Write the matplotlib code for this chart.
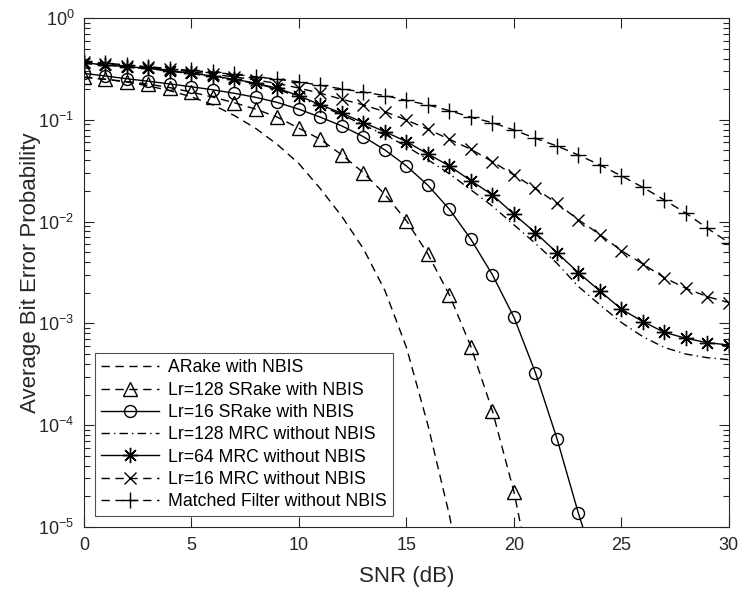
import numpy as np
import matplotlib.pyplot as plt

nan = np.nan

snr = list(range(31))

# ARake with NBIS
arake = [0.262, 0.25, 0.235, 0.215, 0.193, 0.168, 0.14, 0.11, 0.082, 0.057,
         0.037, 0.021, 0.0112, 0.0054, 0.0021, 5.8e-4, 1.0e-4, 1.3e-5, 1e-6,
         nan, nan, nan, nan, nan, nan, nan, nan, nan, nan, nan, nan]
# Lr=128 SRake with NBIS
srake128 = [0.262, 0.25, 0.237, 0.224, 0.207, 0.187, 0.167, 0.147, 0.127, 0.106,
            0.0825, 0.0643, 0.0451, 0.0302, 0.0185, 0.0102, 0.0048, 0.0019, 5.9e-4,
            1.38e-4, 2.22e-5, 2e-6, nan, nan, nan, nan, nan, nan, nan, nan, nan]
# Lr=16 SRake with NBIS
srake16 = [0.286, 0.269, 0.253, 0.239, 0.225, 0.211, 0.197, 0.182, 0.166, 0.148,
           0.127, 0.106, 0.0869, 0.0682, 0.0505, 0.0352, 0.0227, 0.0132, 0.0067,
           0.003, 0.00115, 3.28e-4, 7.4e-5, 1.36e-5, 3e-6, nan, nan, nan, nan, nan, nan]
# Lr=128 MRC without NBIS
mrc128 = [0.36, 0.342, 0.329, 0.318, 0.301, 0.283, 0.266, 0.247, 0.227, 0.2,
          0.166, 0.137, 0.112, 0.089, 0.071, 0.055, 0.0405, 0.0295, 0.0205,
          0.0142, 0.0093, 0.0061, 0.0039, 0.0023, 0.00152, 0.00102, 0.00074,
          0.00058, 0.0005, 0.00046, 0.00044]
# Lr=64 MRC without NBIS
mrc64 = [0.364, 0.345, 0.332, 0.321, 0.304, 0.286, 0.269, 0.25, 0.229, 0.204,
         0.172, 0.14, 0.116, 0.0937, 0.0764, 0.061, 0.0461, 0.0352, 0.0252,
         0.0183, 0.0118, 0.00778, 0.00495, 0.00315, 0.00208, 0.00138, 0.00104,
         8.17e-4, 7.14e-4, 6.46e-4, 6.14e-4]
# Lr=16 MRC without NBIS
mrc16 = [0.37, 0.352, 0.339, 0.327, 0.312, 0.296, 0.28, 0.264, 0.246, 0.227,
         0.205, 0.182, 0.159, 0.14, 0.12, 0.0995, 0.0807, 0.0643, 0.0513,
         0.0388, 0.0287, 0.0212, 0.0151, 0.0104, 0.00746, 0.00518, 0.00383,
         0.00281, 0.00221, 0.00183, 0.0016]
# Matched Filter without NBIS
mf = [0.375, 0.36, 0.346, 0.332, 0.318, 0.305, 0.293, 0.279, 0.265, 0.25,
      0.236, 0.218, 0.201, 0.187, 0.173, 0.155, 0.14, 0.123, 0.106, 0.0937,
      0.0794, 0.0658, 0.0553, 0.0451, 0.036, 0.0281, 0.0217, 0.0163, 0.0121,
      0.0086, 0.0062]

labels = ['ARake with NBIS', 'Lr=128 SRake with NBIS', 'Lr=16 SRake with NBIS',
          'Lr=128 MRC without NBIS', 'Lr=64 MRC without NBIS',
          'Lr=16 MRC without NBIS', 'Matched Filter without NBIS']

plt.rcParams['font.family'] = ['Liberation Sans', 'DejaVu Sans']
plt.rcParams['mathtext.default'] = 'regular'

grey = '#262626'
dash = (6, 4)
dashdot = (6, 3, 1, 3)

fig = plt.figure(figsize=(7.4, 5.9), dpi=100)
ax = fig.add_axes([0.1135, 0.1068, 0.8715, 0.8627])

kw = dict(color='k', lw=1.0, mfc='none', mew=1.0)
ax.plot(snr, arake, ls=(0, dash), label=labels[0], **kw)
ax.plot(snr, srake128, ls=(0, dash), marker='^', ms=10, label=labels[1], **kw)
ax.plot(snr, srake16, ls='-', marker='o', ms=8.6, label=labels[2], **kw)
ax.plot(snr, mrc128, ls=(0, dashdot), label=labels[3], **kw)
ax.plot(snr, mrc64, ls='-', marker=(8, 2, 0), ms=11, label=labels[4], **kw)
ax.plot(snr, mrc16, ls=(0, dash), marker='x', ms=9, label=labels[5], **kw)
ax.plot(snr, mf, ls=(0, dash), marker='+', ms=11, label=labels[6], **kw)

ax.set_yscale('log')
ax.set_xlim(0, 30)
ax.set_ylim(1e-5, 1)
ax.set_xticks(range(0, 31, 5))
ax.set_yticks([1e-5, 1e-4, 1e-3, 1e-2, 1e-1, 1])

ax.tick_params(which='both', direction='in', top=True, right=True,
               colors=grey, labelsize=13, width=0.8)
ax.tick_params(which='major', length=7, pad=7)
ax.tick_params(which='minor', length=4)
for s in ax.spines.values():
    s.set_color(grey)
    s.set_linewidth(0.8)

ax.set_xlabel('SNR (dB)', fontsize=16, color=grey, labelpad=9)
ax.set_ylabel('Average Bit Error Probability', fontsize=16, color=grey, labelpad=-2)

leg = ax.legend(loc='lower left', fontsize=12.7, frameon=True, fancybox=False,
                edgecolor=grey, handlelength=3.3, handletextpad=0.5,
                labelspacing=0.3, borderpad=0.35, borderaxespad=0.6)
leg.get_frame().set_linewidth(0.8)

fig.savefig('out.png', dpi=100, facecolor='white')
